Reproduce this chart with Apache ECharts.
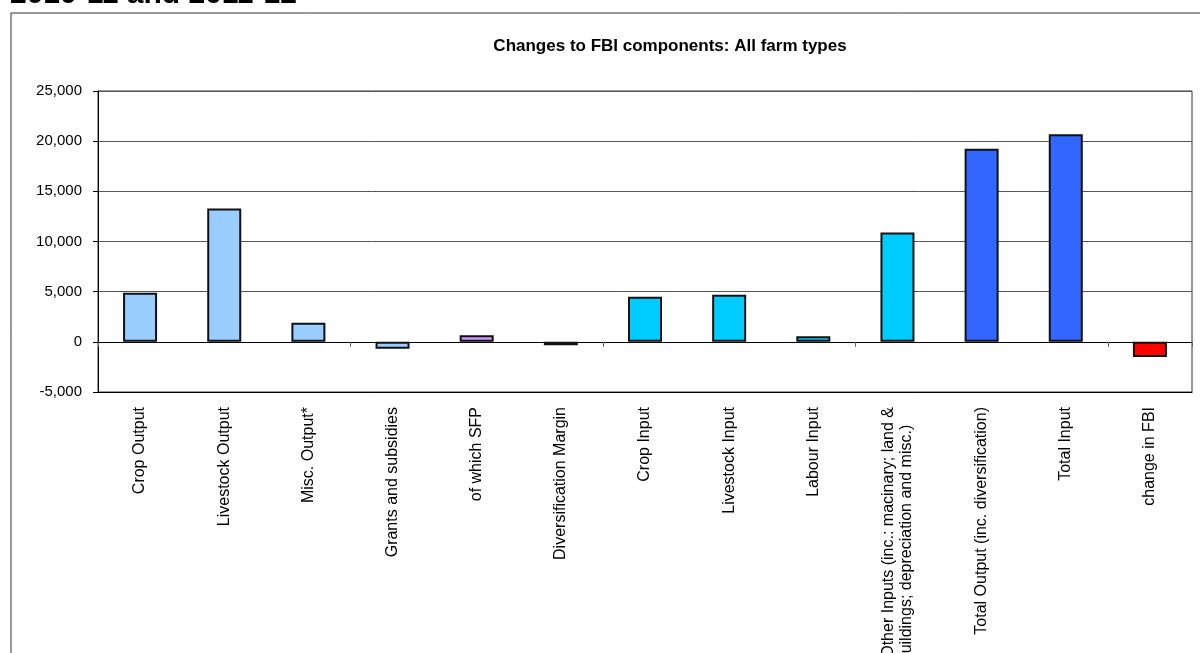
<!DOCTYPE html>
<html>
<head>
<meta charset="utf-8">
<script src="https://cdn.jsdelivr.net/npm/echarts@6/dist/echarts.min.js"></script>
<style>
html,body{margin:0;padding:0;background:#fff;}
#c{width:1200px;height:653px;}
</style>
</head>
<body>
<div id="c"></div>
<script>
const categories = [
  'Crop Output',
  'Livestock Output',
  'Misc. Output*',
  'Grants and subsidies',
  'of which SFP',
  'Diversification Margin',
  'Crop Input',
  'Livestock Input',
  'Labour Input',
  'Other Inputs (inc.: macinary; land &\nbuildings; depreciation and misc.)    ',
  'Total Output (inc. diversification)',
  'Total Input',
  'change in FBI'
];
const values = [4900, 13300, 1900, -700, 650, -350, 4500, 4700, 550, 10900, 19250, 20700, -1500];
const yTicks = [-5000, 0, 5000, 10000, 15000, 20000, 25000];
const chartTitle = 'Changes to FBI components: All farm types';
const pageTitle = '2010-11 and 2011-12';

const barColors = ['#99CCFF','#99CCFF','#99CCFF','#99CCFF','#CC99FF','#5F7F9F','#00CCFF','#00CCFF','#00CCFF','#00CCFF','#3366FF','#3366FF','#FF0000'];

const chart = echarts.init(document.getElementById('c'));
const FONT = '"Liberation Sans", Arial, sans-serif';
chart.setOption({
  animation: false,
  backgroundColor: '#fff',
  graphic: [
    { type: 'rect', shape: { x: 11, y: 13, width: 1300, height: 800 }, style: { fill: 'none', stroke: '#333', lineWidth: 1 }, z: -1 },
    { type: 'text', x: 10, y: -5, style: { text: pageTitle, font: 'bold 30px ' + FONT, fill: '#000', textAlign: 'left', textVerticalAlign: 'middle' } },
    { type: 'text', x: 670, y: 46, style: { text: chartTitle, font: 'bold 17px ' + FONT, fill: '#000', textAlign: 'center', textVerticalAlign: 'middle' } }
  ],
  grid: { left: 98, right: 8, top: 91, bottom: 261, containLabel: false, outerBoundsMode: 'none', show: true, borderColor: '#333', borderWidth: 1, backgroundColor: 'transparent' },
  xAxis: [
    {
      type: 'category', data: categories, position: 'bottom',
      axisLine: { show: true, onZero: true, lineStyle: { color: '#000', width: 1 } },
      axisTick: { show: true, length: 5, lineStyle: { color: '#666' } },
      axisLabel: { show: false },
      splitLine: { show: false }
    },
    {
      type: 'category', data: categories, position: 'bottom',
      axisLine: { show: true, onZero: false, lineStyle: { color: '#000', width: 1 } },
      axisTick: { show: false },
      axisLabel: { show: true, interval: 0, rotate: 90, margin: 15, fontSize: 16, fontFamily: FONT, color: '#000', lineHeight: 18 },
      splitLine: { show: false }
    }
  ],
  yAxis: {
    type: 'value', min: yTicks[0], max: yTicks[yTicks.length - 1], interval: yTicks[1] - yTicks[0],
    axisLine: { show: true, lineStyle: { color: '#000', width: 1 } },
    axisTick: { show: true, length: 5, lineStyle: { color: '#000' } },
    axisLabel: { margin: 16, fontSize: 15, fontFamily: FONT, color: '#000', formatter: v => v.toLocaleString('en-US') },
    splitLine: { show: true, lineStyle: { color: '#555', width: 1 } }
  },
  series: [{
    type: 'bar', xAxisIndex: 0, yAxisIndex: 0, barWidth: 34,
    data: values.map((v, i) => ({ value: v, itemStyle: { color: barColors[i] } })),
    itemStyle: { borderColor: '#111', borderWidth: 2 }
  }]
});
</script>
</body>
</html>
